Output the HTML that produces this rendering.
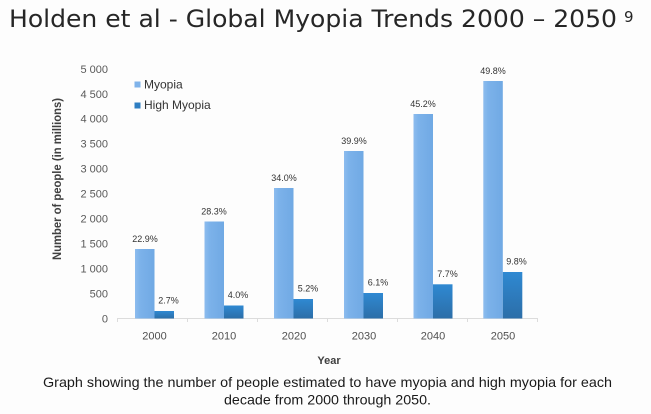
<!DOCTYPE html>
<html>
<head>
<meta charset="utf-8">
<style>
html,body{margin:0;padding:0;background:#fdfdfd;}
svg{display:block;}
</style>
</head>
<body>
<svg width="651" height="414" viewBox="0 0 651 414" xmlns="http://www.w3.org/2000/svg" font-family="Liberation Sans, DejaVu Sans, sans-serif">
<defs>
<linearGradient id="gm" x1="0" y1="0" x2="1" y2="0">
<stop offset="0" stop-color="#8dbcee"/>
<stop offset="0.25" stop-color="#7cb2ea"/>
<stop offset="1" stop-color="#70a9e4"/>
</linearGradient>
<linearGradient id="gh" x1="0" y1="0" x2="0" y2="1">
<stop offset="0" stop-color="#2f89d2"/>
<stop offset="1" stop-color="#2c6ea8"/>
</linearGradient>
</defs>
<rect x="0" y="0" width="651" height="414" fill="#fdfdfd"/>

<!-- Title -->
<text x="9" y="27" style="font-family:'DejaVu Sans',sans-serif;font-size:24px" fill="#262626" textLength="608" lengthAdjust="spacingAndGlyphs">Holden et al - Global Myopia Trends 2000 – 2050</text>
<text x="624" y="22" style="font-family:'DejaVu Sans',sans-serif;font-size:15px" fill="#262626">9</text>

<!-- Y axis labels -->
<g font-size="11" fill="#595959" text-anchor="end">
<text x="108" y="322.5">0</text>
<text x="108" y="297.5">500</text>
<text x="108" y="272.5">1 000</text>
<text x="108" y="247.5">1 500</text>
<text x="108" y="222.6">2 000</text>
<text x="108" y="197.6">2 500</text>
<text x="108" y="172.7">3 000</text>
<text x="108" y="147.7">3 500</text>
<text x="108" y="122.7">4 000</text>
<text x="108" y="97.8">4 500</text>
<text x="108" y="72.8">5 000</text>
</g>

<!-- Y axis title -->
<text transform="translate(61,179) rotate(-90)" text-anchor="middle" font-size="11.5" font-weight="bold" fill="#404040" textLength="162" lengthAdjust="spacingAndGlyphs">Number of people (in millions)</text>

<!-- Legend -->
<rect x="134.5" y="81.5" width="6" height="6" fill="#7fb3ea"/>
<text x="144" y="88.3" font-size="12" fill="#333">Myopia</text>
<rect x="134.5" y="102.5" width="6" height="6" fill="#2e7ec2"/>
<text x="144" y="109" font-size="12" fill="#333">High Myopia</text>

<!-- Axis line -->
<line x1="117" y1="318.5" x2="538" y2="318.5" stroke="#dcdcdc" stroke-width="1"/>
<g stroke="#dcdcdc" stroke-width="1">
<line x1="117.5" y1="318.5" x2="117.5" y2="322"/>
<line x1="187.5" y1="318.5" x2="187.5" y2="322"/>
<line x1="257.5" y1="318.5" x2="257.5" y2="322"/>
<line x1="327.5" y1="318.5" x2="327.5" y2="322"/>
<line x1="397.5" y1="318.5" x2="397.5" y2="322"/>
<line x1="467.5" y1="318.5" x2="467.5" y2="322"/>
<line x1="537.5" y1="318.5" x2="537.5" y2="322"/>
</g>

<!-- Bars: Myopia -->
<rect x="135" y="249" width="19.5" height="69.5" fill="url(#gm)"/>
<rect x="204.5" y="221.5" width="19.5" height="97" fill="url(#gm)"/>
<rect x="274" y="188" width="19.5" height="130.5" fill="url(#gm)"/>
<rect x="344" y="151" width="19.5" height="167.5" fill="url(#gm)"/>
<rect x="413.5" y="114" width="19.5" height="204.5" fill="url(#gm)"/>
<rect x="483.3" y="81" width="19.5" height="237.5" fill="url(#gm)"/>

<!-- Bars: High Myopia -->
<rect x="154.5" y="311" width="19.5" height="7.5" fill="url(#gh)"/>
<rect x="224" y="305.5" width="19.5" height="13" fill="url(#gh)"/>
<rect x="293.5" y="299" width="19.5" height="19.5" fill="url(#gh)"/>
<rect x="363.5" y="293" width="19.5" height="25.5" fill="url(#gh)"/>
<rect x="433" y="284.3" width="19.5" height="34.2" fill="url(#gh)"/>
<rect x="502.8" y="272" width="19.5" height="46.5" fill="url(#gh)"/>

<!-- Percent labels -->
<g font-size="9" fill="#333" text-anchor="middle">
<text x="145" y="242">22.9%</text>
<text x="214" y="214.5">28.3%</text>
<text x="284" y="181">34.0%</text>
<text x="354" y="144">39.9%</text>
<text x="423" y="107">45.2%</text>
<text x="493" y="74">49.8%</text>
<text x="168.5" y="303.5">2.7%</text>
<text x="238" y="298">4.0%</text>
<text x="308" y="291.5">5.2%</text>
<text x="378" y="285.5">6.1%</text>
<text x="447.5" y="276.8">7.7%</text>
<text x="516.5" y="264.5">9.8%</text>
</g>

<!-- X labels -->
<g font-size="11" fill="#505050" text-anchor="middle">
<text x="154.5" y="339.5">2000</text>
<text x="224" y="339.5">2010</text>
<text x="294" y="339.5">2020</text>
<text x="364" y="339.5">2030</text>
<text x="433" y="339.5">2040</text>
<text x="503" y="339.5">2050</text>
</g>
<text x="329" y="364" font-size="11" font-weight="bold" fill="#404040" text-anchor="middle">Year</text>

<!-- Caption -->
<text x="43" y="387" font-size="14" fill="#1a1a1a" textLength="569" lengthAdjust="spacingAndGlyphs">Graph showing the number of people estimated to have myopia and high myopia for each</text>
<text x="224" y="404.5" font-size="14" fill="#1a1a1a" textLength="207" lengthAdjust="spacingAndGlyphs">decade from 2000 through 2050.</text>
</svg>
</body>
</html>
